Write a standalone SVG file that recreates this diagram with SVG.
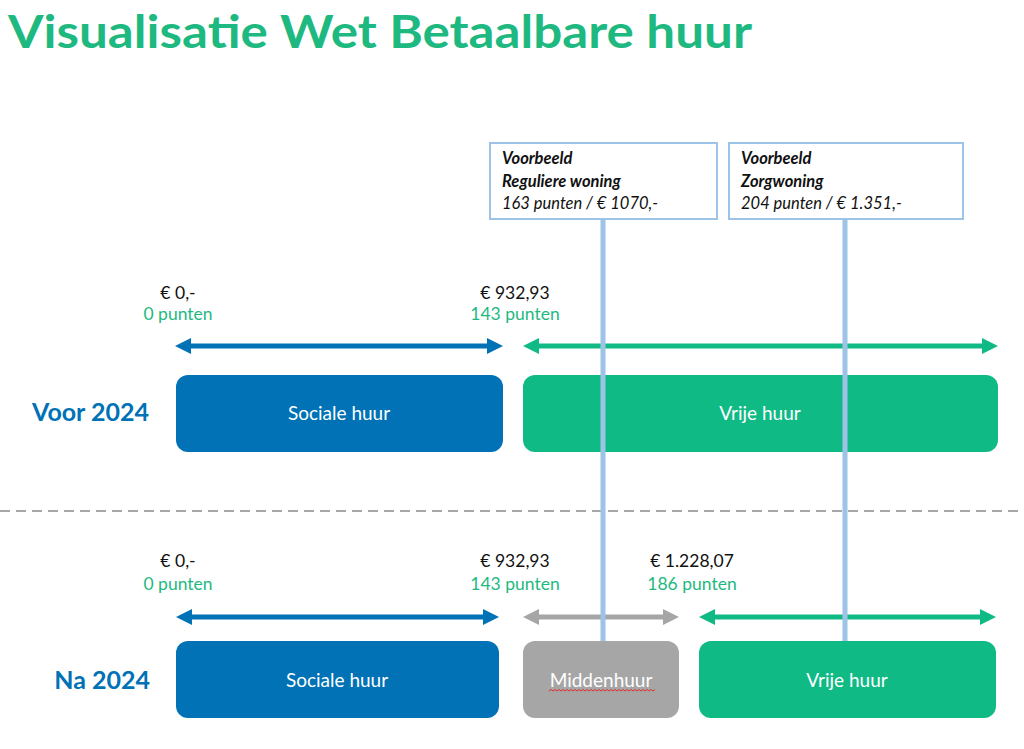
<svg xmlns="http://www.w3.org/2000/svg" width="1024" height="749" viewBox="0 0 1024 749">
<style>
.title{font-family:Lato,"Open Sans",sans-serif;font-weight:bold;font-size:45px;fill:#1EB980}
.row{font-family:Lato,"Open Sans",sans-serif;font-weight:bold;font-size:25px;fill:#0072B5;text-anchor:end}
.eur{font-family:Lato,"Open Sans",sans-serif;font-size:17.5px;fill:#111;text-anchor:middle}
.pt{font-family:Lato,"Open Sans",sans-serif;font-size:17.5px;fill:#1EB980;text-anchor:middle}
.box{font-family:Lato,"Open Sans",sans-serif;font-size:19px;fill:#fff;text-anchor:middle}
.cb{font-family:Lato,"Open Sans",sans-serif;font-size:16.5px;fill:#111;font-style:italic}
.cbb{font-weight:bold}
.blue{fill:#0072B5}
.green{fill:#10BA85}
.grey{fill:#A6A6A6}
.callout{fill:#fff;stroke:#9DC3E6;stroke-width:2}
.vline{stroke:#9DC3E6;stroke-width:5}
.arr{stroke-width:5;fill:none}
</style>
<defs>
<marker id="mb" markerUnits="userSpaceOnUse" markerWidth="16" markerHeight="16" refX="4" refY="8" orient="auto-start-reverse"><path d="M0,0 L16,8 L0,16 z" fill="#0072B5"/></marker>
<marker id="mg" markerUnits="userSpaceOnUse" markerWidth="16" markerHeight="16" refX="4" refY="8" orient="auto-start-reverse"><path d="M0,0 L16,8 L0,16 z" fill="#10BA85"/></marker>
<marker id="mr" markerUnits="userSpaceOnUse" markerWidth="16" markerHeight="16" refX="4" refY="8" orient="auto-start-reverse"><path d="M0,0 L16,8 L0,16 z" fill="#A6A6A6"/></marker>
</defs>
<rect width="1024" height="749" fill="#fff"/>
<text class="title" x="8" y="48" textLength="744" lengthAdjust="spacingAndGlyphs">Visualisatie Wet Betaalbare huur</text>

<line x1="0" y1="511" x2="1024" y2="511" stroke="#A6A6A6" stroke-width="2" stroke-dasharray="10,6"/>

<text class="row" x="149" y="421">Voor 2024</text>
<text class="row" x="150" y="689">Na 2024</text>

<g id="labels-top">
<text class="eur" x="178" y="299">€ 0,-</text>
<text class="pt" x="178" y="320">0 punten</text>
<text class="eur" x="515" y="299">€ 932,93</text>
<text class="pt" x="515" y="320">143 punten</text>
</g>
<g id="labels-bottom">
<text class="eur" x="178" y="567">€ 0,-</text>
<text class="pt" x="178" y="590">0 punten</text>
<text class="eur" x="515" y="567">€ 932,93</text>
<text class="pt" x="515" y="590">143 punten</text>
<text class="eur" x="692" y="567">€ 1.228,07</text>
<text class="pt" x="692" y="590">186 punten</text>
</g>

<g id="sociale-voor"><rect class="blue" x="176" y="375" width="327" height="77" rx="12"/><text class="box" x="339" y="420">Sociale huur</text></g>
<g id="vrije-voor"><rect class="green" x="523" y="375" width="475" height="77" rx="12"/><text class="box" x="760" y="420">Vrije huur</text></g>
<g id="sociale-na"><rect class="blue" x="176" y="641" width="323" height="77" rx="12"/><text class="box" x="337" y="687">Sociale huur</text></g>
<g id="midden-na"><rect class="grey" x="523" y="641" width="156" height="77" rx="12"/><text class="box" x="601" y="687">Middenhuur</text>
<path d="M549,691 l2,-1.5 l2,1.5 l2,-1.5 l2,1.5 l2,-1.5 l2,1.5 l2,-1.5 l2,1.5 l2,-1.5 l2,1.5 l2,-1.5 l2,1.5 l2,-1.5 l2,1.5 l2,-1.5 l2,1.5 l2,-1.5 l2,1.5 l2,-1.5 l2,1.5 l2,-1.5 l2,1.5 l2,-1.5 l2,1.5 l2,-1.5 l2,1.5 l2,-1.5 l2,1.5 l2,-1.5 l2,1.5 l2,-1.5 l2,1.5 l2,-1.5 l2,1.5 l2,-1.5 l2,1.5 l2,-1.5 l2,1.5 l2,-1.5 l2,1.5 l2,-1.5 l2,1.5 l2,-1.5 l2,1.5 l2,-1.5 l2,1.5 l2,-1.5 l2,1.5 l2,-1.5 l2,1.5 l2,-1.5 l2,1.5 l2,-1.5" fill="none" stroke="#E03030" stroke-width="1"/></g>
<g id="vrije-na"><rect class="green" x="699" y="641" width="297" height="77" rx="12"/><text class="box" x="847" y="687">Vrije huur</text></g>

<g id="connectors">
<line class="arr" x1="187" y1="346" x2="491" y2="346" stroke="#0072B5" marker-start="url(#mb)" marker-end="url(#mb)"/>
<line class="arr" x1="535" y1="346" x2="986" y2="346" stroke="#10BA85" marker-start="url(#mg)" marker-end="url(#mg)"/>
<line class="arr" x1="188" y1="617" x2="487" y2="617" stroke="#0072B5" marker-start="url(#mb)" marker-end="url(#mb)"/>
<line class="arr" x1="535" y1="617" x2="667" y2="617" stroke="#A6A6A6" marker-start="url(#mr)" marker-end="url(#mr)"/>
<line class="arr" x1="711" y1="617" x2="984" y2="617" stroke="#10BA85" marker-start="url(#mg)" marker-end="url(#mg)"/>
<line class="vline" x1="603" y1="219" x2="603" y2="641"/>
<line class="vline" x1="845" y1="219" x2="845" y2="641"/>
</g>

<g id="voorbeeld-regulier">
<rect class="callout" x="490" y="143" width="227" height="76"/>
<text class="cb cbb" x="502" y="164">Voorbeeld</text>
<text class="cb cbb" x="502" y="187">Reguliere woning</text>
<text class="cb" x="502" y="209">163 punten / € 1070,-</text>
</g>
<g id="voorbeeld-zorg">
<rect class="callout" x="729" y="143" width="234" height="76"/>
<text class="cb cbb" x="741" y="164">Voorbeeld</text>
<text class="cb cbb" x="741" y="187">Zorgwoning</text>
<text class="cb" x="741" y="209">204 punten / € 1.351,-</text>
</g>
</svg>
